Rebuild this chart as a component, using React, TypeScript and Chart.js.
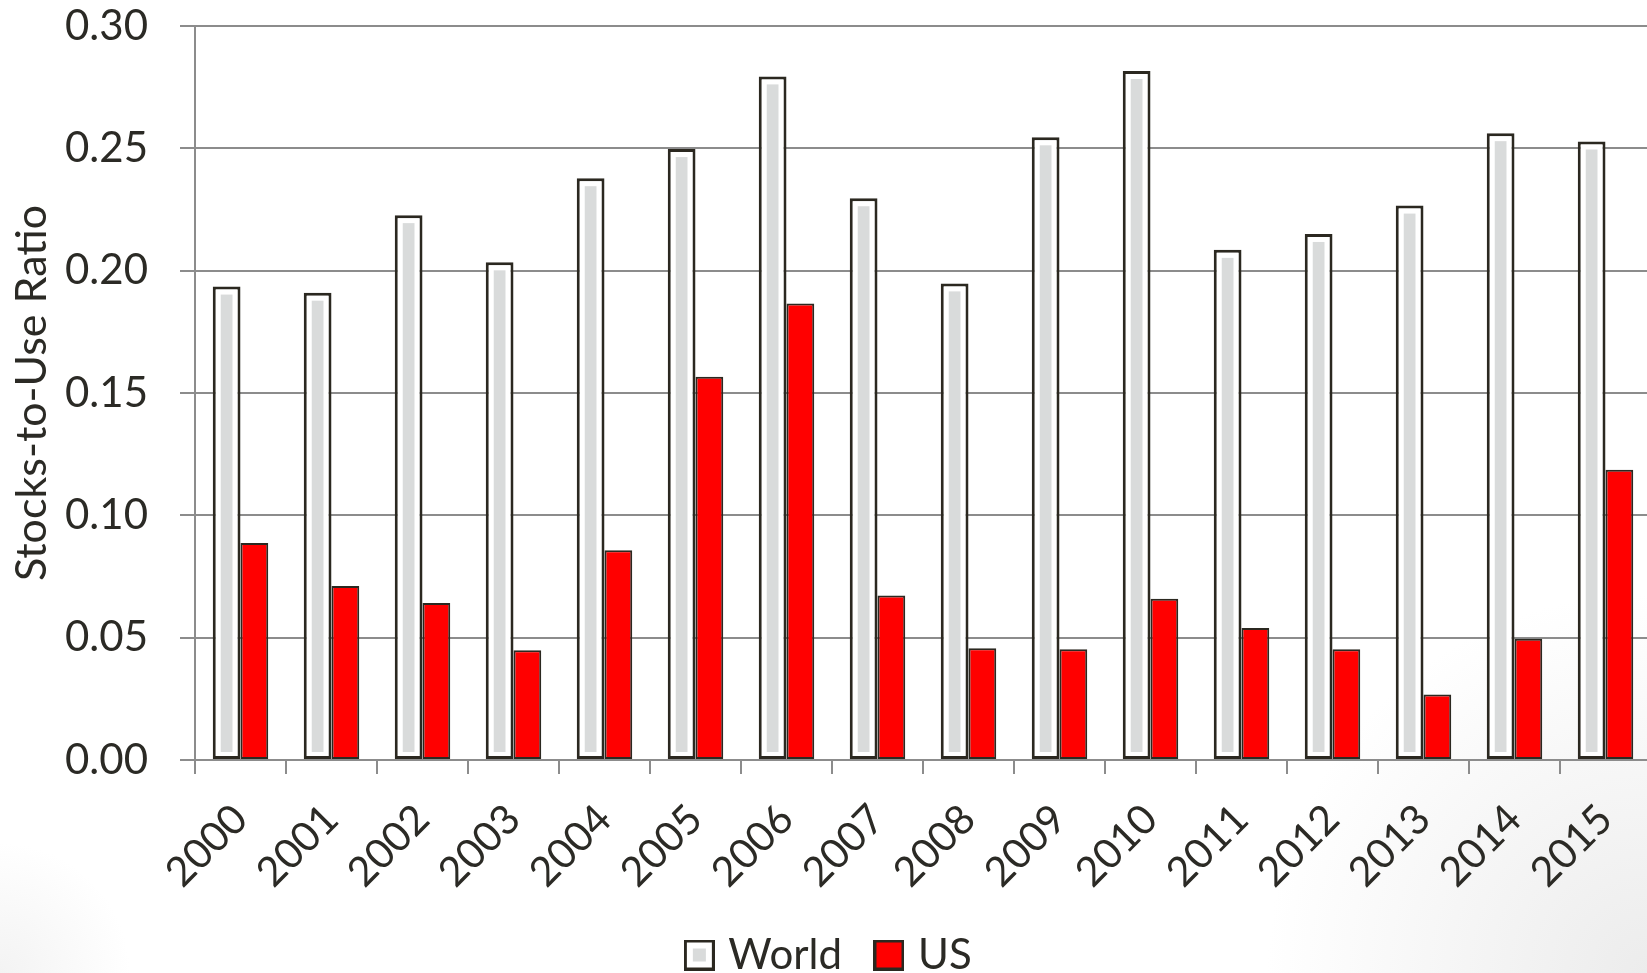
import React, { useEffect, useRef } from "react";
import { Chart, registerables } from "chart.js";

Chart.register(...registerables);

const years = ["2000", "2001", "2002", "2003", "2004", "2005", "2006", "2007", "2008", "2009", "2010", "2011", "2012", "2013", "2014", "2015"];
const worldValues = [0.1935, 0.191, 0.2227, 0.2034, 0.2378, 0.2497, 0.2794, 0.2296, 0.1948, 0.2545, 0.2816, 0.2085, 0.215, 0.2266, 0.2562, 0.2528];
const usValues = [0.0887, 0.0711, 0.0642, 0.0449, 0.0857, 0.1566, 0.1866, 0.0672, 0.0457, 0.0453, 0.0659, 0.0539, 0.0453, 0.0268, 0.0496, 0.1186];
const seriesNames = ["World", "US"];
const yAxisTitle = "Stocks-to-Use Ratio";

const FONT = "Lato";
const TEXT = "#2b2a25";
const EDGE = "#2b2820";
const GRID = "#8c8c8c";
const INNER = "#d9dbdb";
const RED = "#ff0000";

function makeSwatch(kind: "world" | "us"): HTMLCanvasElement {
  const c = document.createElement("canvas");
  c.width = 31;
  c.height = 31;
  const g = c.getContext("2d")!;
  g.fillStyle = EDGE;
  g.fillRect(0, 0, 31, 31);
  if (kind === "world") {
    g.fillStyle = "#ffffff";
    g.fillRect(3, 3, 25, 25);
    g.fillStyle = INNER;
    g.fillRect(9, 9, 13, 13);
  } else {
    g.fillStyle = RED;
    g.fillRect(3, 3, 25, 25);
  }
  return c;
}

const worldInset = {
  id: "worldInset",
  afterDatasetDraw(chart: any, args: any) {
    if (args.index !== 0) return;
    const ctx = chart.ctx;
    const meta = chart.getDatasetMeta(0);
    ctx.save();
    ctx.fillStyle = INNER;
    meta.data.forEach((bar: any) => {
      const p = bar.getProps(["x", "y", "base", "width"], true);
      const left = p.x - p.width / 2 + 8;
      const w = p.width - 16;
      const top = p.y + 8;
      const h = p.base - 7 - top;
      if (w > 0 && h > 0) ctx.fillRect(left, top, w, h);
    });
    ctx.restore();
  },
};

const legendNudge = {
  id: "legendNudge",
  afterLayout(chart: any) {
    if (chart.legend) {
      chart.legend.left += 6;
      chart.legend.right += 6;
    }
  },
};

export default function App() {
  const ref = useRef<HTMLCanvasElement | null>(null);

  useEffect(() => {
    if (!ref.current) return;
    Chart.defaults.font.family = FONT;
    Chart.defaults.color = TEXT;
    const swatches = [makeSwatch("world"), makeSwatch("us")];
    const chart = new Chart(ref.current, {
      type: "bar",
      data: {
        labels: years,
        datasets: [
          {
            label: seriesNames[0],
            data: worldValues,
            backgroundColor: "#ffffff",
            borderColor: EDGE,
            borderWidth: 3,
            borderSkipped: false,
            categoryPercentage: 0.61,
            barPercentage: 1.0,
          },
          {
            label: seriesNames[1],
            data: usValues,
            backgroundColor: RED,
            borderColor: EDGE,
            borderWidth: 2,
            borderSkipped: false,
            categoryPercentage: 0.61,
            barPercentage: 1.0,
          },
        ],
      },
      options: {
        responsive: false,
        animation: false,
        layout: { padding: { top: 26, left: 0, right: 5, bottom: 0 } },
        plugins: {
          tooltip: { enabled: false },
          legend: {
            position: "bottom",
            labels: {
              font: { size: 42, family: FONT },
              color: TEXT,
              padding: 39,
              usePointStyle: true,
              pointStyleWidth: 16,
              generateLabels: (ch: any) =>
                ch.data.datasets.map((ds: any, i: number) => ({
                  text: ds.label,
                  pointStyle: swatches[i],
                  fillStyle: "transparent",
                  strokeStyle: "transparent",
                  lineWidth: 0,
                  fontColor: TEXT,
                  hidden: false,
                  datasetIndex: i,
                })),
            },
          },
        },
        scales: {
          x: {
            grid: {
              drawOnChartArea: false,
              drawTicks: true,
              tickLength: 14,
              color: GRID,
              lineWidth: 2,
              offset: true,
            },
            border: { display: true, color: GRID, width: 2 },
            ticks: {
              font: { size: 41, family: FONT },
              color: TEXT,
              minRotation: 45,
              maxRotation: 45,
              autoSkip: false,
              padding: 21,
            },
            afterFit: (s: any) => {
              s.height = 135;
              s.paddingLeft = 0;
              s.paddingRight = 0;
            },
          },
          y: {
            min: 0,
            max: 0.3,
            grid: {
              color: GRID,
              lineWidth: 2,
              drawTicks: true,
              tickLength: 15,
            },
            border: { display: true, color: GRID, width: 2 },
            ticks: {
              stepSize: 0.05,
              font: { size: 42, family: FONT },
              color: TEXT,
              padding: 32,
              callback: (v: any) => Number(v).toFixed(2),
            },
            title: {
              display: true,
              text: yAxisTitle,
              font: { size: 43, family: FONT },
              color: TEXT,
              padding: { top: 6, bottom: 0 },
            },
            afterFit: (s: any) => {
              s.width = 195;
              s.paddingTop = 0;
              s.paddingBottom = 0;
            },
          },
        },
      },
      plugins: [worldInset, legendNudge],
    });
    return () => chart.destroy();
  }, []);

  return (
    <div
      style={{
        position: "fixed",
        left: 0,
        top: 0,
        width: 1647,
        height: 973,
        overflow: "hidden",
        background:
          "radial-gradient(circle at 100% 100%, rgba(236,236,236,1) 0px, rgba(255,255,255,0) 380px), radial-gradient(circle at 0% 100%, rgba(243,243,243,1) 0px, rgba(255,255,255,0) 130px), #ffffff",
      }}
    >
      <canvas ref={ref} width={1656} height={986} style={{ display: "block", width: 1656, height: 986 }} />
    </div>
  );
}
